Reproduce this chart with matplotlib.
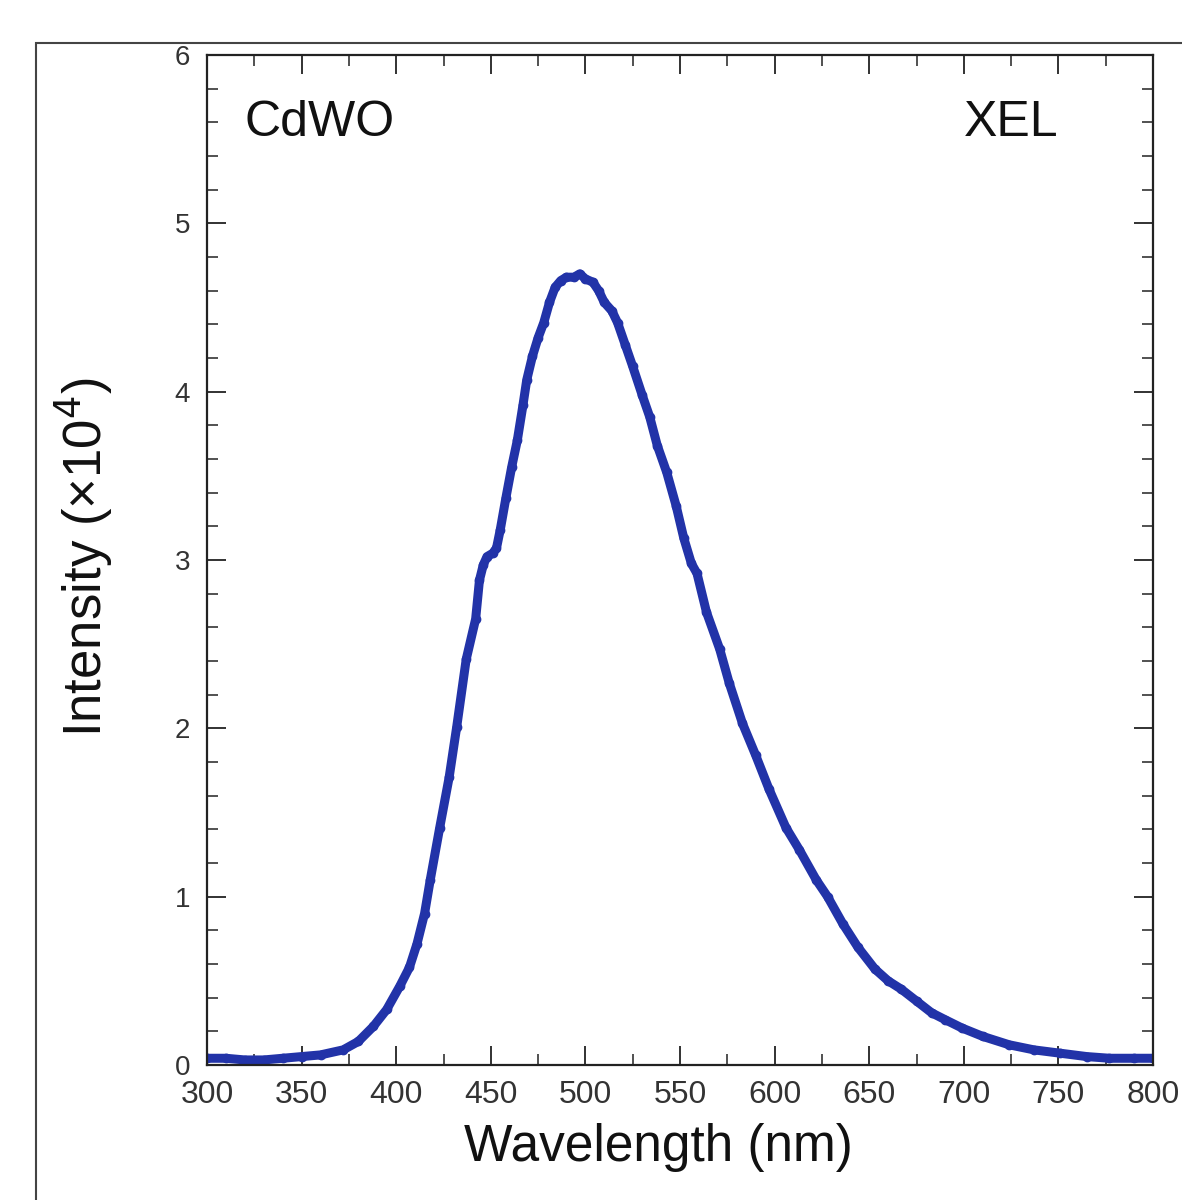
import numpy as np
import matplotlib
matplotlib.use('Agg')
import matplotlib.pyplot as plt
from matplotlib.patches import Rectangle
from matplotlib.ticker import MultipleLocator

plt.rcParams['font.family'] = ['Liberation Sans', 'DejaVu Sans']

# spectrum (nm, intensity x 1e4)
wavelength = [300, 310, 320, 330, 340, 350, 360, 372, 380, 388, 395, 402, 407, 411,
              415, 418, 423, 428, 432, 437, 442, 444, 446, 448, 451, 453, 455, 458,
              461, 464, 467, 469, 472, 475, 478, 481, 484, 487, 490, 494, 497, 500,
              504, 507, 510, 514, 517, 521, 525, 530, 534, 538, 543, 548, 552, 556,
              559, 564, 571, 576, 583, 590, 597, 606, 613, 622, 628, 636, 644, 653,
              660, 667, 675, 683, 690, 699, 710, 724, 737, 751, 765, 777, 790, 800]
intensity = [0.04, 0.04, 0.03, 0.03, 0.04, 0.05, 0.06, 0.09, 0.14, 0.23, 0.33, 0.47, 0.58, 0.72,
             0.90, 1.10, 1.41, 1.71, 2.01, 2.41, 2.65, 2.88, 2.97, 3.02, 3.04, 3.07, 3.18, 3.37,
             3.55, 3.71, 3.92, 4.07, 4.21, 4.32, 4.41, 4.53, 4.62, 4.66, 4.68, 4.68, 4.70, 4.67,
             4.65, 4.60, 4.53, 4.48, 4.41, 4.28, 4.15, 3.98, 3.85, 3.68, 3.52, 3.32, 3.13, 2.98,
             2.92, 2.69, 2.47, 2.27, 2.03, 1.84, 1.64, 1.41, 1.28, 1.10, 1.00, 0.84, 0.70, 0.57,
             0.50, 0.45, 0.38, 0.31, 0.27, 0.22, 0.17, 0.12, 0.09, 0.07, 0.05, 0.04, 0.04, 0.04]

xticks = [300, 350, 400, 450, 500, 550, 600, 650, 700, 750, 800]
yticks = [0, 1, 2, 3, 4, 5, 6]

W, H = 1182, 1200
fig = plt.figure(figsize=(W / 100, H / 100), dpi=100)

# outer frame around the panel
fig.patches.append(Rectangle((36 / W, -0.1), 1.2, 1 - 43 / H + 0.1, transform=fig.transFigure,
                             fill=False, ec='#444444', lw=1.5))

ax = fig.add_axes([207 / W, 1 - 1065 / H, (1153 - 207) / W, (1065 - 55) / H])

ax.plot(wavelength, intensity, color='#2233a8', lw=6.5, marker='o', ms=6,
        solid_capstyle='round', solid_joinstyle='round')

ax.set_xlim(300, 800)
ax.set_ylim(0, 6)
ax.set_xticks(xticks)
ax.set_yticks(yticks)
ax.xaxis.set_minor_locator(MultipleLocator(25))
ax.yaxis.set_minor_locator(MultipleLocator(0.2))
ax.tick_params(which='both', direction='in', top=True, right=True, colors='#222222')
ax.tick_params(which='major', length=14, width=1.3)
ax.tick_params(which='minor', length=8, width=1.1)
ax.tick_params(axis='x', labelsize=23, pad=11, labelcolor='#333333')
ax.tick_params(axis='y', labelsize=20, pad=12, labelcolor='#333333')
for s in ax.spines.values():
    s.set_linewidth(1.6)
    s.set_color('#222222')

ax.set_xlabel('Wavelength (nm)', fontsize=37, color='#111111')
ax.set_ylabel('Intensity (×10$^{4}$)', fontsize=38, color='#111111')
ax.xaxis.set_label_coords(0.477, -0.057)
ax.yaxis.set_label_coords(-0.097, 0.503)

ax.text(0.04, 0.955, 'CdWO', transform=ax.transAxes, fontsize=36, va='top', ha='left',
        color='#111111')
ax.text(0.80, 0.955, 'XEL', transform=ax.transAxes, fontsize=36, va='top', ha='left',
        color='#111111')

fig.savefig('out.png', dpi=100)
